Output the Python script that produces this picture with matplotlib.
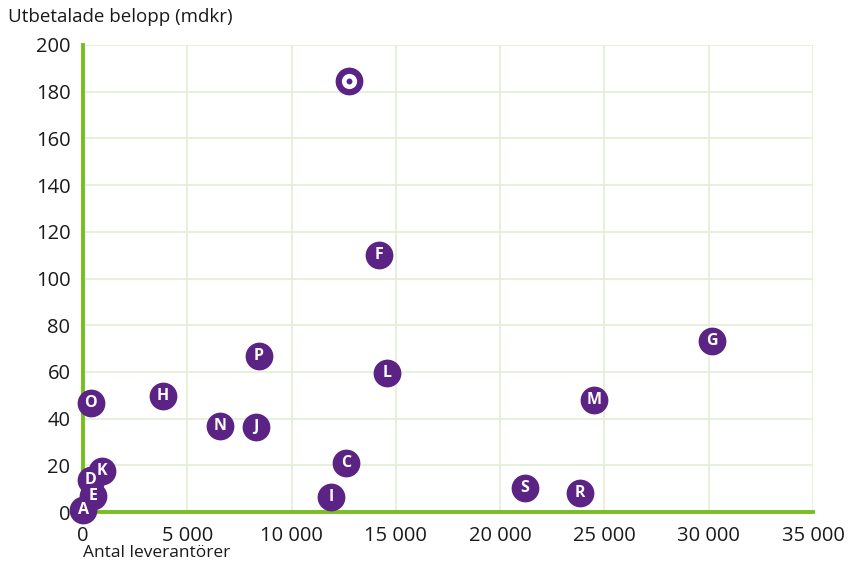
import matplotlib
matplotlib.use("Agg")
import matplotlib.pyplot as plt
from matplotlib.ticker import FuncFormatter

# Data
labels = ["Ö", "F", "P", "L", "G", "M", "H", "O", "N", "J", "C", "I", "S", "R", "K", "D", "E", "A"]
leverantorer = [12750, 14190, 8440, 14580, 30160, 24500, 3840, 380, 6570, 8300, 12610, 11890, 21190, 23830, 910, 380, 480, 0]
belopp = [184.6, 110.1, 66.8, 59.5, 73.2, 48.0, 49.7, 46.7, 36.8, 36.4, 21.0, 6.4, 10.3, 8.1, 17.6, 13.7, 6.9, 0.9]
x_ticks = [0, 5000, 10000, 15000, 20000, 25000, 30000, 35000]
y_ticks = [0, 20, 40, 60, 80, 100, 120, 140, 160, 180, 200]

PURPLE = "#5b2383"
GREEN = "#78be21"
GRID = "#e3eed3"
FONT = ["Open Sans", "DejaVu Sans"]

plt.rcParams['font.family'] = FONT

fig = plt.figure(figsize=(8.49, 5.65), dpi=100)
ax = fig.add_axes([83/849, 1-512/565, (813-83)/849, (512-45)/565])

ax.set_xlim(0, 35000)
ax.set_ylim(0, 200)
ax.set_xticks(x_ticks)
ax.set_yticks(y_ticks)
ax.xaxis.set_major_formatter(FuncFormatter(lambda v, p: f"{int(v):,}".replace(",", " ")))
ax.grid(True, color=GRID, linewidth=1.2, zorder=0)
ax.set_axisbelow(True)
for s in ["top", "right"]:
    ax.spines[s].set_visible(False)
for s in ["left", "bottom"]:
    ax.spines[s].set_color(GREEN)
    ax.spines[s].set_linewidth(2.8)
    ax.spines[s].set_zorder(1)
ax.tick_params(length=0, labelsize=14.5, colors="#1a1a1a")
ax.tick_params(axis="x", pad=10)
ax.tick_params(axis="y", pad=9)

for lab, x, y in zip(labels, leverantorer, belopp):
    ax.scatter([x], [y], s=400, color=PURPLE, zorder=3, clip_on=False, linewidths=0)
    if lab == "Ö":
        ax.scatter([x], [y], s=120, color="white", zorder=4, clip_on=False, linewidths=0)
        ax.scatter([x], [y], s=18, color=PURPLE, zorder=5, clip_on=False, linewidths=0)
    else:
        ax.text(x, y, lab, color="white", fontsize=11.5, fontweight="bold",
                ha="center", va="center", zorder=4, clip_on=False)

fig.text(8/849, 1-17/565, "Utbetalade belopp (mdkr)", fontsize=13.5, color="#1a1a1a", va="center", ha="left")
fig.text(83/849, 1-553/565, "Antal leverantörer", fontsize=12.5, color="#1a1a1a", va="center", ha="left")

fig.savefig("out.png", dpi=100)
